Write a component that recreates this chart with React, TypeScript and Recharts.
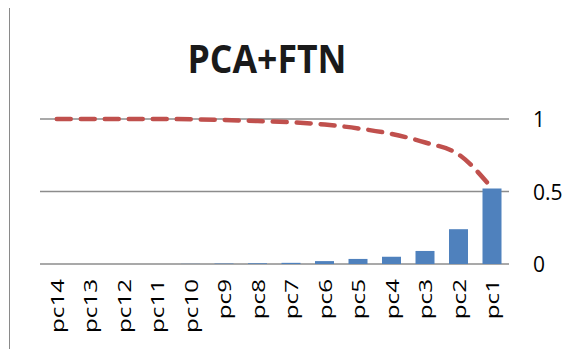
import { Bar, CartesianGrid, ComposedChart, Line, XAxis, YAxis } from 'recharts'

const categories = ['pc14', 'pc13', 'pc12', 'pc11', 'pc10', 'pc9', 'pc8', 'pc7', 'pc6', 'pc5', 'pc4', 'pc3', 'pc2', 'pc1']
const explained = [0, 0, 0, 0, 0.001, 0.003, 0.005, 0.008, 0.02, 0.035, 0.05, 0.09, 0.24, 0.52]
const cumulative = [1, 1, 1, 1, 0.998, 0.993, 0.986, 0.977, 0.962, 0.935, 0.897, 0.838, 0.755, 0.52]
const yTicks = [0, 0.5, 1]

const data = categories.map((name, i) => ({
  name,
  explained: explained[i],
  cumulative: cumulative[i],
}))

const FONT = '"Open Sans", sans-serif'

const XTick = ({ x, y, payload }: any) => (
  <text
    x={0}
    y={0}
    transform={`translate(${x + 7},${y + 7}) rotate(-90) scale(1.15, 0.82)`}
    textAnchor="end"
    fontFamily={FONT}
    fontSize={21}
    fill="#000"
  >
    {payload.value}
  </text>
)

const YTick = ({ y, payload }: any) => (
  <text x={533} y={y + 8} textAnchor="start" fontFamily={FONT} fontSize={21} fill="#000">
    {String(payload.value)}
  </text>
)

export default function App() {
  return (
    <div style={{ position: 'absolute', left: 0, top: 0, width: 583, height: 349, background: '#fff' }}>
      <div style={{ position: 'absolute', left: 9, top: 8, width: 1, height: 341, background: '#8a8a8a' }} />
      <ComposedChart
        width={583}
        height={349}
        data={data}
        margin={{ top: 119, right: 0, left: 40, bottom: 0 }}
      >
        <CartesianGrid vertical={false} stroke="#8c8c8c" strokeWidth={1.5} />
        <XAxis
          dataKey="name"
          axisLine={false}
          tickLine={false}
          interval={0}
          height={85}
          tick={<XTick />}
        />
        <YAxis
          orientation="right"
          domain={[0, 1]}
          ticks={yTicks}
          axisLine={false}
          tickLine={false}
          width={74}
          tick={<YTick />}
        />
        <Bar dataKey="explained" fill="#4F81BD" barSize={19} isAnimationActive={false} />
        <Line
          type="monotone"
          dataKey="cumulative"
          stroke="#C0504D"
          strokeWidth={4.5}
          strokeDasharray="14 10"
          strokeLinecap="round"
          dot={false}
          activeDot={false}
          isAnimationActive={false}
        />
      </ComposedChart>
      <svg style={{ position: 'absolute', left: 0, top: 0 }} width={583} height={110}>
        <text
          x={267}
          y={73}
          textAnchor="middle"
          fontFamily={FONT}
          fontWeight={700}
          fontSize={40}
          textLength={159}
          lengthAdjust="spacingAndGlyphs"
          fill="#1a1a1a"
        >
          PCA+FTN
        </text>
      </svg>
    </div>
  )
}
